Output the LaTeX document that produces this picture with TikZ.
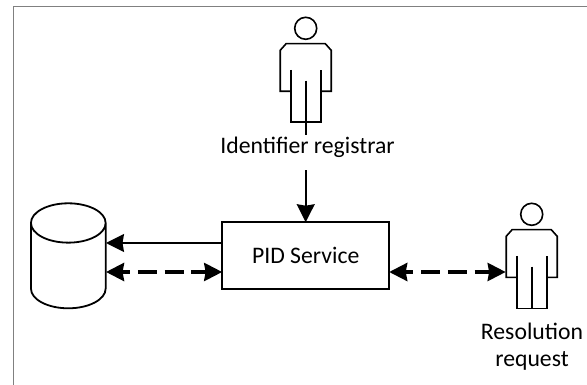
\documentclass[tikz,border=0pt]{standalone}
\usepackage{fontspec}
\setmainfont{Carlito}
\usetikzlibrary{shapes.geometric,arrows.meta}
\newcommand{\personfig}[1]{
\begin{scope}[shift={#1},personline]
\draw (0,0) circle (11);
\draw (-15,63) -- (-25.5,63) -- (-25.5,22) -- (-19.5,15.3) -- (19.5,15.3) -- (25.5,22) -- (25.5,63) -- (15,63);
\draw (-15,41.7) -- (-15,94) -- (15,94) -- (15,41.7);
\draw (0,52.4) -- (0,94);
\end{scope}
}
\begin{document}
\begin{tikzpicture}[
x=1pt,y=-1pt,
personline/.style={line width=1.6pt,black},
solidline/.style={line width=1.6pt,-{Stealth[length=18pt,width=18pt,inset=1.5pt]}},
dashline/.style={line width=3.6pt,dash pattern=on 19pt off 7.8pt,dash phase=10.5pt,{Stealth[length=18pt,width=18pt,inset=1.5pt]}-{Stealth[length=18pt,width=18pt,inset=1.5pt]}},
lbl/.style={font=\fontsize{23.7}{27}\selectfont,align=center,inner sep=0pt}]
\useasboundingbox (0,0) rectangle (587,385);
% frame
\draw[line width=1.4pt,gray] (13.5,385) -- (13.5,6.5) -- (587,6.5);
% service and store
\node[draw,line width=1.6pt,minimum width=167pt,minimum height=67pt,inner sep=0pt,outer sep=0pt,lbl] (pid) at (305.7,255.7) {PID Service};
\node[draw,cylinder,shape border rotate=90,shape aspect=6.56,line width=1.8pt,minimum width=74.7pt,minimum height=105pt,inner sep=3pt,outer sep=0pt,anchor=shape center] (store) at (68.3,255.8) {};
% people
\personfig{(305.7,28.3)}
\personfig{(531.7,214.3)}
\coordinate (regfoot) at (305.7,122.3);
\coordinate (reqside) at (505.7,272);
\coordinate (storeup) at (106,243);
\coordinate (storelow) at (106,272);
% connectors
\draw[solidline] (regfoot) -- (pid.north);
\draw[solidline] (pid.west |- storeup) -- (storeup);
\draw[dashline] (storelow) -- (pid.west |- storelow);
\draw[dashline] (pid.east |- reqside) -- (reqside);
% labels
\node[lbl,fill=white,anchor=base,text height=19pt,text depth=16pt] (reglabel) at (307.5,154) {Identifier registrar};
\node[lbl] (reqlabel) at (532,347) {Resolution\\request};
\end{tikzpicture}
\end{document}
